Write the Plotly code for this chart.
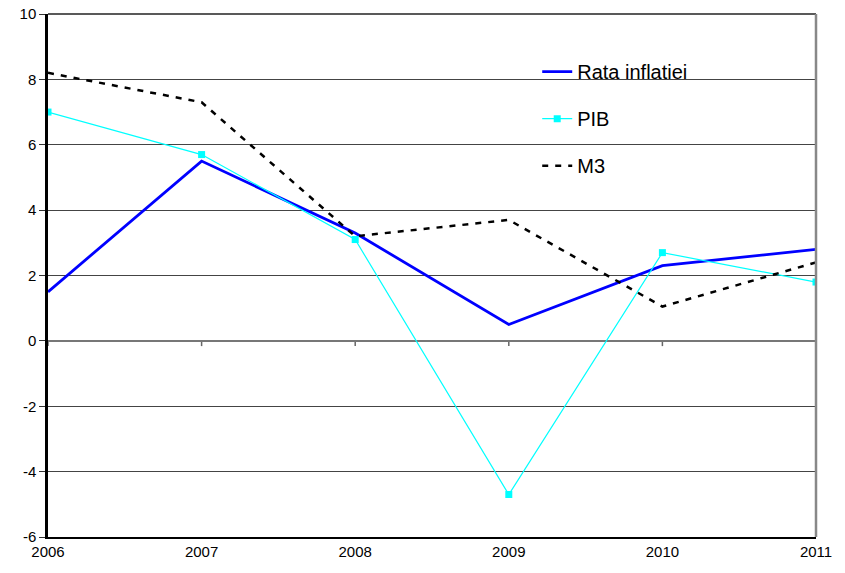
import plotly.graph_objects as go

years = [2006, 2007, 2008, 2009, 2010, 2011]
rata_inflatiei = [1.5, 5.5, 3.3, 0.5, 2.3, 2.8]
pib = [7.0, 5.7, 3.1, -4.7, 2.7, 1.8]
m3 = [8.2, 7.3, 3.2, 3.7, 1.05, 2.4]
y_ticks = [-6, -4, -2, 0, 2, 4, 6, 8, 10]

fig = go.Figure()
fig.add_trace(go.Scatter(x=years, y=rata_inflatiei, name="Rata inflatiei", mode="lines",
                         line=dict(color="#0000FF", width=2.8), legendgroup="a"))
fig.add_trace(go.Scatter(x=years, y=pib, name="PIB", mode="lines+markers",
                         line=dict(color="#00FFFF", width=1.2),
                         marker=dict(symbol="square", size=7, color="#00FFFF"), legendgroup="b"))
fig.add_trace(go.Scatter(x=years, y=m3, name="M3", mode="lines",
                         line=dict(color="#000000", width=2.5, dash="6px,7px"), legendgroup="c"))

# tick marks along the zero line at each year
for yr in years:
    fig.add_shape(type="line", x0=yr, x1=yr, y0=0, y1=-0.16, xref="x", yref="y",
                  line=dict(color="#666666", width=1.5), layer="below")

# white legend background panel
fig.add_shape(type="rect", xref="paper", yref="paper", x0=0.589, x1=0.881, y0=0.663, y1=0.927,
              fillcolor="white", line=dict(width=0), layer="below")
# top border (gridline at max) in black
fig.add_shape(type="line", xref="paper", yref="paper", x0=0, x1=1, y0=1, y1=1,
              line=dict(color="#222222", width=1.5))
# right border in gray
fig.add_shape(type="line", xref="paper", yref="paper", x0=1, x1=1, y0=0, y1=1,
              line=dict(color="#888888", width=2.5))

fig.update_layout(
    width=845, height=573,
    margin=dict(l=48, r=29, t=14, b=36),
    paper_bgcolor="white", plot_bgcolor="white",
    font=dict(family="Liberation Sans, Arial, sans-serif", color="black", size=15),
    showlegend=True,
    legend=dict(x=0.637, y=0.927, xanchor="left", yanchor="top",
                bgcolor="rgba(0,0,0,0)", font=dict(size=20), traceorder="grouped",
                tracegroupgap=18, borderwidth=0),
    xaxis=dict(range=[2006, 2011], tickvals=years, ticktext=[str(y) for y in years],
               showgrid=False, zeroline=False, showline=True, linecolor="#000000", linewidth=2,
               mirror=False, ticks="", tickfont=dict(size=15), automargin=False),
    yaxis=dict(range=[-6, 10], tickvals=y_ticks, ticktext=[str(v) for v in y_ticks],
               showgrid=True, gridcolor="#444444", gridwidth=1,
               zeroline=True, zerolinecolor="#777777", zerolinewidth=1.5,
               showline=True, linecolor="#000000", linewidth=2.5,
               ticks="outside", ticklen=6, tickcolor="#333333", tickfont=dict(size=15),
               automargin=False),
)

fig.write_html("out.html", config={"displayModeBar": False},
               post_script="document.body.style.margin='0';document.body.style.overflow='hidden';")
